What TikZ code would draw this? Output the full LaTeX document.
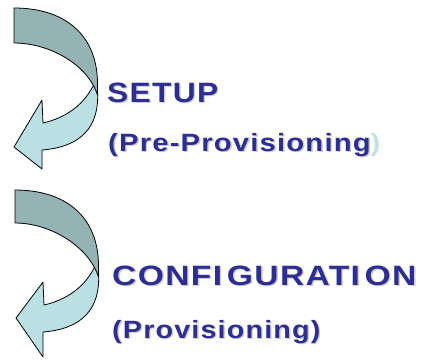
\documentclass[tikz,border=0pt]{standalone}
\usepackage{fontspec}
\newfontfamily\lblfont[LetterSpace=4]{Liberation Sans Bold}
\definecolor{ribbondark}{RGB}{149,179,181}
\definecolor{ribbonlight}{RGB}{186,224,227}
\definecolor{titleblue}{RGB}{44,46,148}
\definecolor{softshadow}{RGB}{205,205,210}
\definecolor{paleparen}{RGB}{190,228,232}
% text with a soft drop shadow
\newcommand{\shadowtext}[1]{{\color{softshadow}\rlap{\kern1.2pt\raisebox{-1.2pt}{#1}}}#1}
\tikzset{
  ribbonback/.style={draw=black, line width=0.8pt, fill=ribbondark, line join=round},
  ribbonfront/.style={draw=black, line width=0.8pt, fill=ribbonlight, line join=round},
  bigtitle/.style={anchor=base west, inner sep=0pt, text=titleblue,
    font=\lblfont\fontsize{28}{30}\selectfont},
  subtitle/.style={anchor=base west, inner sep=0pt, text=titleblue,
    font=\lblfont\fontsize{25}{27}\selectfont},
}
\begin{document}
\begin{tikzpicture}[x=1pt,y=-1pt]
\useasboundingbox (0,0) rectangle (422,360);

% upper curved arrow: front face with head first, back face on top
\path[ribbonfront]
  (43,123) .. controls (65,118) and (85,105) .. (95,82)
  -- (97.5,90)
  .. controls (100,128) and (80,147) .. (42,150)
  -- (42,169) -- (14,147) -- (42,100) -- cycle;
\path[ribbonback]
  (14,8) .. controls (65,8) and (98,35) .. (97.5,85)
  -- (97.5,95)
  .. controls (88,65) and (50,43) .. (14,43) -- cycle;

% lower curved arrow
\path[ribbonfront]
  (44,305) .. controls (66,300) and (86,287) .. (96,264)
  -- (98.5,272)
  .. controls (101,310) and (81,329) .. (43,332)
  -- (43,357) -- (16,318) -- (43,282) -- cycle;
\path[ribbonback]
  (15,190) .. controls (66,190) and (99,217) .. (98.5,267)
  -- (98.5,277)
  .. controls (89,247) and (51,223) .. (15,223) -- cycle;

% labels
\node[bigtitle, xscale=1.135] (setup) at (107,102) {\shadowtext{SETUP}};
\node[subtitle, xscale=1.17] (preprov) at (108,151)
  {\shadowtext{(Pre-Provisioning}{\color{paleparen})}};
\node[bigtitle, xscale=1.2] (config) at (112,285)
  {\shadowtext{CONFI\kern4pt GURATI\kern4pt ON}};
\node[subtitle, xscale=1.15] (prov) at (112,338) {\shadowtext{(Provisioning)}};
\end{tikzpicture}
\end{document}
